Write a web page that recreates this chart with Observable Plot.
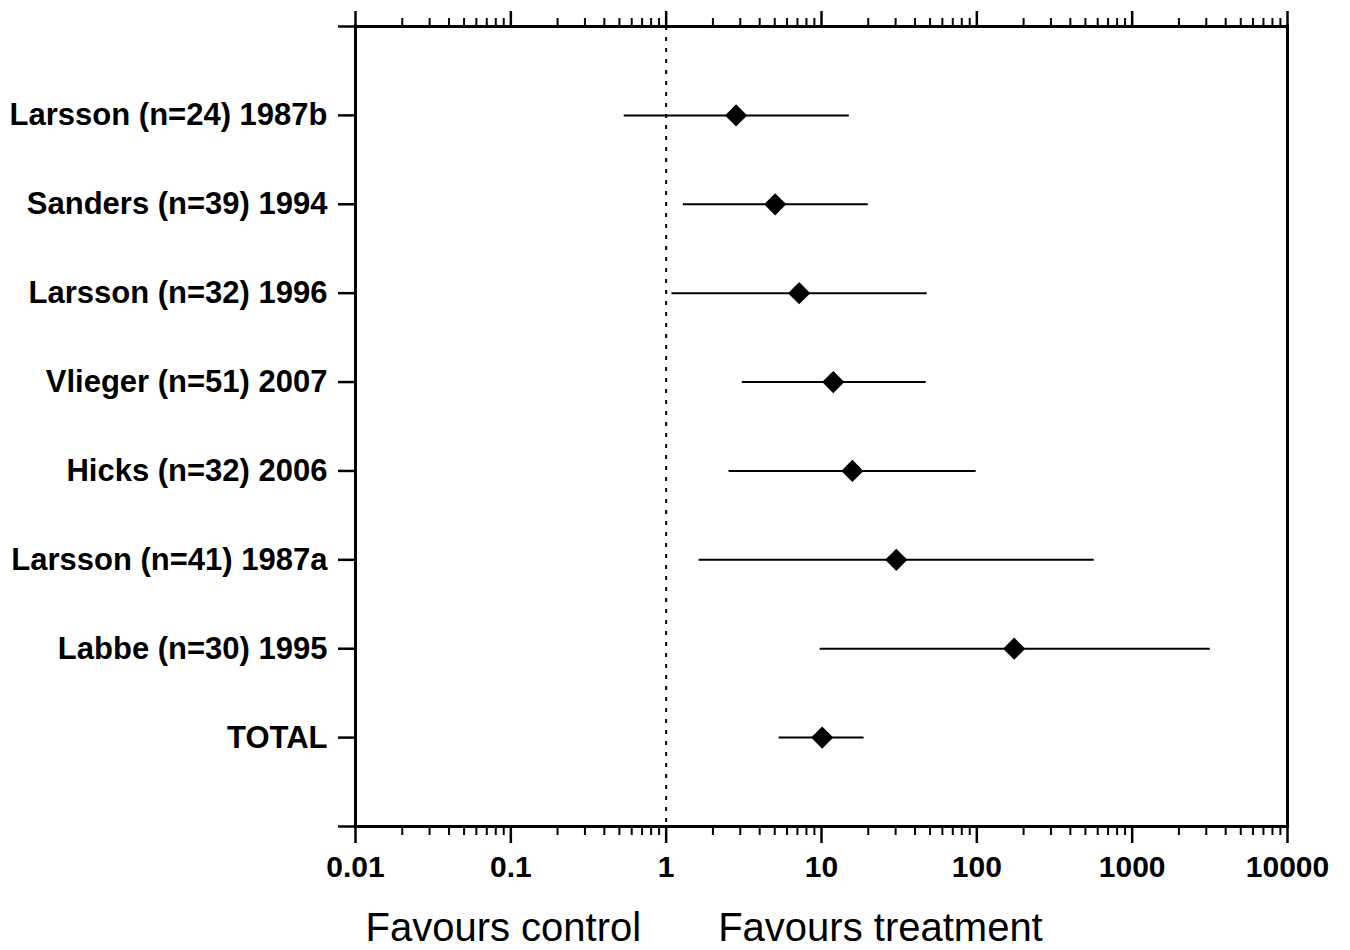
<!DOCTYPE html>
<html>
<head>
<meta charset="utf-8">
<script src="https://cdn.jsdelivr.net/npm/d3@7"></script>
<script src="https://cdn.jsdelivr.net/npm/@observablehq/plot@0.6"></script>
<style>
  html, body { margin: 0; padding: 0; background: #fff; }
  #chart svg { display: block; }
</style>
</head>
<body>
<div id="chart"></div>
<script>
const studies = [
  "Larsson (n=24) 1987b",
  "Sanders (n=39) 1994",
  "Larsson (n=32) 1996",
  "Vlieger (n=51) 2007",
  "Hicks (n=32) 2006",
  "Larsson (n=41) 1987a",
  "Labbe (n=30) 1995",
  "TOTAL"
];
const estimate = [2.82, 5.03, 7.18, 11.9, 15.8, 30.3, 174, 10.1];
const lower    = [0.537, 1.29, 1.09, 3.09, 2.54, 1.63, 9.8, 5.34];
const upper    = [15.1, 20.0, 47.9, 47.2, 99, 570, 3184, 18.8];

const majorTicks = [0.01, 0.1, 1, 10, 100, 1000, 10000];
const majorTickLabels = ["0.01", "0.1", "1", "10", "100", "1000", "10000"];
const minorMultipliers = [2, 3, 4, 5, 6, 7, 8, 9];
const minorTicks = majorTicks.slice(0, -1).flatMap(d => minorMultipliers.map(m => d * m));

const rowPositions = [0, 1, 2, 3, 4, 5, 6, 7, 8, 9];
const nullValue = 1;
const favourLabels = ["Favours control", "Favours treatment"];

const rows = studies.map((s, i) => ({
  study: s, pos: i + 1, est: estimate[i], lo: lower[i], hi: upper[i]
}));

const font = "'Liberation Sans', Arial, Helvetica, sans-serif";

const chart = Plot.plot({
  width: 1350,
  height: 950,
  marginLeft: 355,
  marginRight: 63,
  marginTop: 26,
  marginBottom: 124,
  style: { fontFamily: font, color: "#000", background: "#fff", overflow: "visible" },
  x: { type: "log", domain: [0.01, 10000], axis: null },
  y: { domain: [0, 9], reverse: true, axis: null },
  marks: [
    // null line
    Plot.ruleX([nullValue], { y1: 0, y2: 9, stroke: "#000", strokeWidth: 2, strokeDasharray: "4,7" }),
    // minor ticks
    Plot.axisX(minorTicks, { anchor: "bottom", tickSize: 9, tickFormat: () => "", strokeWidth: 2, label: null }),
    Plot.axisX(minorTicks, { anchor: "top", tickSize: 9, tickFormat: () => "", strokeWidth: 2, label: null }),
    // major ticks
    Plot.axisX(majorTicks, {
      anchor: "bottom", tickSize: 17, tickPadding: 12, strokeWidth: 2.5,
      tickFormat: (d) => majorTickLabels[majorTicks.indexOf(d)],
      fontSize: 30, fontWeight: "bold", fill: "#000", label: null
    }),
    Plot.axisX(majorTicks, { anchor: "top", tickSize: 16, tickFormat: () => "", strokeWidth: 2.5, label: null }),
    // y axis
    Plot.axisY(rowPositions, {
      anchor: "left", tickSize: 17, tickPadding: 11, strokeWidth: 2.5,
      tickFormat: d => (d >= 1 && d <= studies.length) ? studies[d - 1] : "",
      fontSize: 31, fontWeight: "bold", fill: "#000", label: null
    }),
    // frame lines
    Plot.ruleX([0.01, 10000], { y1: 0, y2: 9, stroke: "#000", strokeWidth: 3, strokeLinecap: "square" }),
    Plot.ruleY([0, 9], { x1: 0.01, x2: 10000, stroke: "#000", strokeWidth: 3, strokeLinecap: "square" }),
    // error bars
    Plot.ruleY(rows, { y: "pos", x1: "lo", x2: "hi", stroke: "#000", strokeWidth: 2 }),
    Plot.dot(rows, { x: "est", y: "pos", symbol: "diamond2", r: 10, fill: "#000", stroke: "none" }),
    // favours labels
    Plot.text([favourLabels[0]], {
      x: () => nullValue, text: d => d, frameAnchor: "bottom", textAnchor: "end",
      lineAnchor: "bottom", dx: -25, dy: 114, fontSize: 40, fontWeight: "normal", fill: "#000"
    }),
    Plot.text([favourLabels[1]], {
      x: () => nullValue, text: d => d, frameAnchor: "bottom", textAnchor: "start",
      lineAnchor: "bottom", dx: 52, dy: 114, fontSize: 40, fontWeight: "normal", fill: "#000"
    })
  ]
});

document.getElementById("chart").append(chart);
</script>
</body>
</html>
